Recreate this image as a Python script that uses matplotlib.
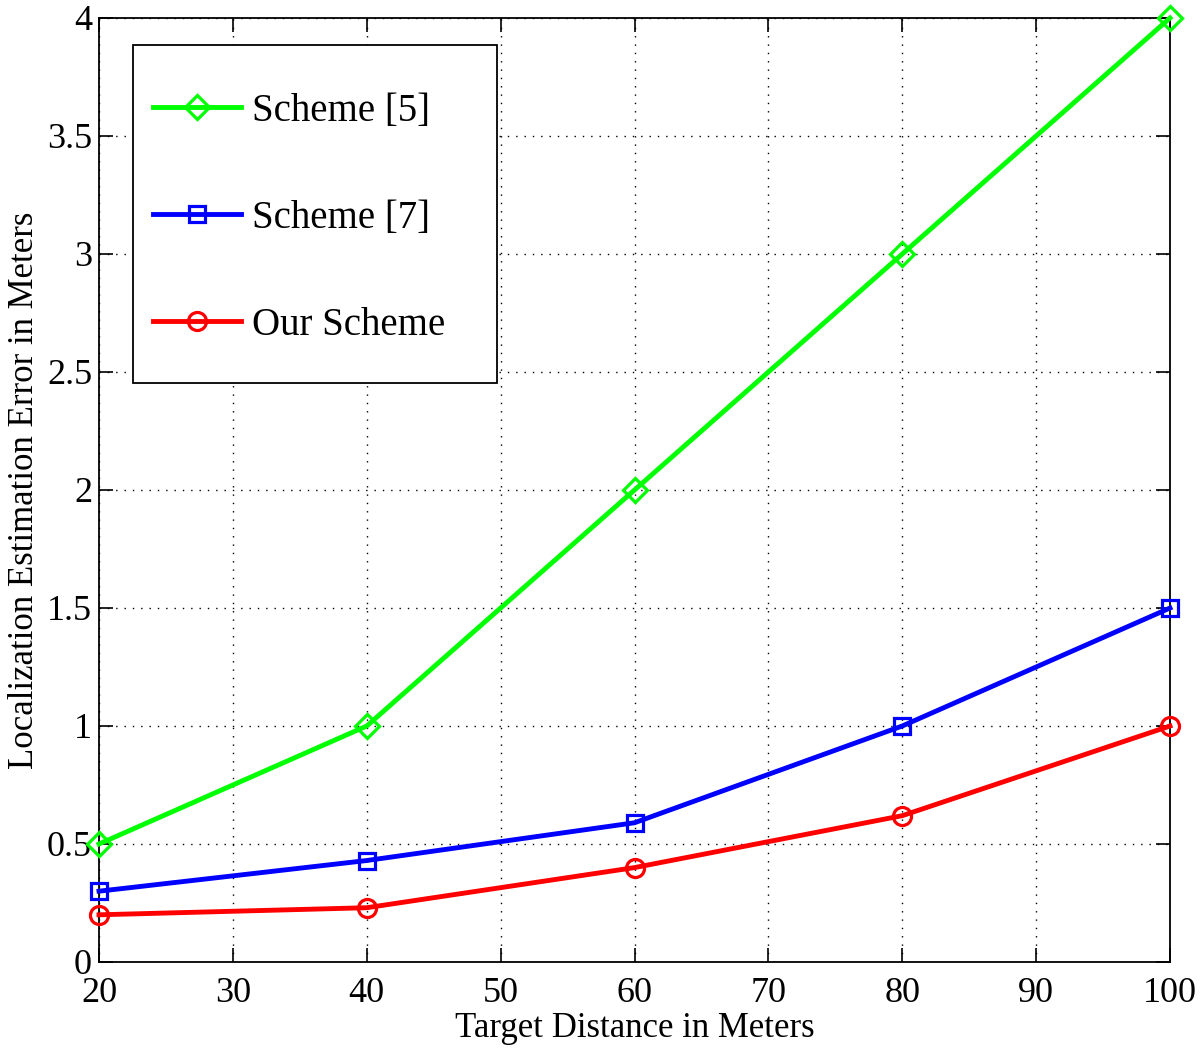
import matplotlib.pyplot as plt
from matplotlib.patches import Rectangle

# datos
distancia = [20, 40, 60, 80, 100]
esquema_5 = [0.5, 1.0, 2.0, 3.0, 4.0]
esquema_7 = [0.30, 0.43, 0.59, 1.0, 1.5]
nuestro = [0.20, 0.23, 0.40, 0.62, 1.0]

plt.rcParams['font.family'] = ['Liberation Serif', 'DejaVu Serif']

fig = plt.figure(figsize=(12, 10.52), dpi=100)
ax = fig.add_axes([99 / 1200, 1 - 962 / 1052, 1071 / 1200, 944 / 1052])

ax.plot(distancia, esquema_5, color='#00ff00', lw=3.5, marker='D', ms=12,
        mfc='none', mew=2.3, label='Scheme [5]', clip_on=False, zorder=3)
ax.plot(distancia, esquema_7, color='#0000ff', lw=3.5, marker='s', ms=11,
        mfc='none', mew=2.3, label='Scheme [7]', clip_on=False, zorder=3)
ax.plot(distancia, nuestro, color='#ff0000', lw=3.5, marker='o', ms=13,
        mfc='none', mew=2.3, label='Our Scheme', clip_on=False, zorder=3)

ax.set_xlim(20, 100)
ax.set_ylim(0, 4)
ax.set_xticks(range(20, 101, 10))
ax.set_yticks([0, 0.5, 1, 1.5, 2, 2.5, 3, 3.5, 4])
ax.set_yticklabels(['0', '0.5', '1', '1.5', '2', '2.5', '3', '3.5', '4'])
ax.tick_params(direction='in', top=True, right=True, length=10, width=1.2,
               labelsize=26)
ax.tick_params(axis='x', pad=11)
ax.tick_params(axis='y', pad=5)
ax.grid(True, linestyle=(0, (1, 5)), color='black', lw=1)
for s in ax.spines.values():
    s.set_linewidth(1.3)

ax.set_xlabel('Target Distance in Meters', fontsize=25, labelpad=1)
ax.set_ylabel('Localization Estimation Error in Meters', fontsize=25, labelpad=4)

# caja de la leyenda al estilo MATLAB
caja = Rectangle((34 / 1071, 1 - 365 / 944), 364 / 1071, 338 / 944,
                 transform=ax.transAxes, facecolor='white', edgecolor='black',
                 lw=1.3, zorder=4)
ax.add_patch(caja)
leg = ax.legend(loc='upper left', bbox_to_anchor=(54 / 1071, 1 - 75 / 944),
                borderaxespad=0, borderpad=0, fontsize=28, handlelength=2.25,
                labelspacing=1.8, handletextpad=0.3, frameon=False)
leg.set_zorder(5)

plt.savefig('out.png', dpi=100)
